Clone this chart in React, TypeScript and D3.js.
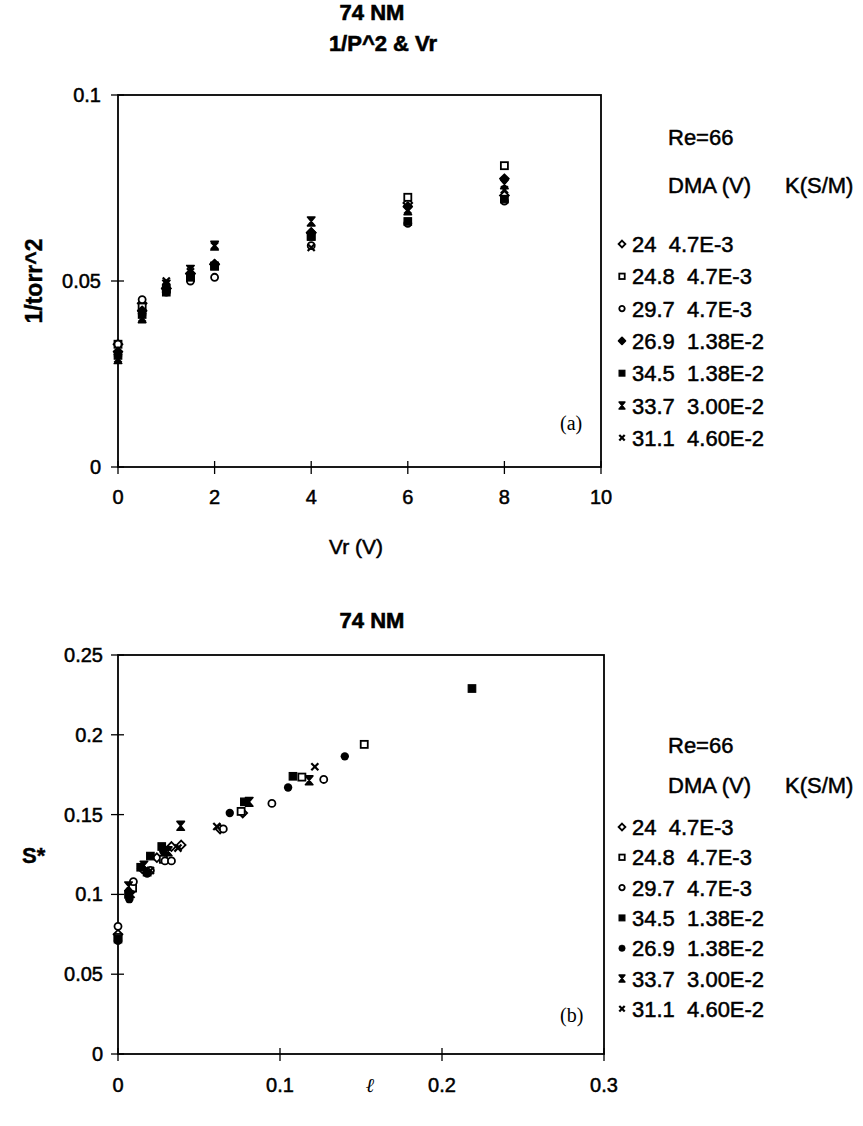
import React from "react";
import * as d3 from "d3";

// ---------- data: panel (a) ----------
const vrValues = [0, 0.5, 1, 1.5, 2, 4, 6, 8];
const aS1 = [0.033, 0.044, 0.048, 0.052, 0.0545, 0.063, 0.071, 0.073]; // 24  4.7E-3  open diamond
const aS2 = [0.033, 0.043, 0.048, 0.051, 0.054, 0.062, 0.0725, 0.081]; // 24.8 open square
const aS3 = [0.033, 0.045, 0.047, 0.05, 0.051, 0.0595, 0.0655, 0.0715]; // 29.7 open circle
const aS4 = [0.031, 0.042, 0.048, 0.052, 0.0545, 0.063, 0.07, 0.0775]; // 26.9 filled diamond
const aS5 = [0.03, 0.041, 0.047, 0.051, 0.054, 0.062, 0.066, 0.072]; // 34.5 filled square
const aS6 = [0.029, 0.04, 0.049, 0.053, 0.0595, 0.066, 0.069, 0.076]; // 33.7 hourglass
const aS7 = [0.029, 0.04, 0.05, 0.0525, 0.0595, 0.059, 0.069, 0.0745]; // 31.1 x
const aLabels = ["24  4.7E-3", "24.8  4.7E-3", "29.7  4.7E-3", "26.9  1.38E-2", "34.5  1.38E-2", "33.7  3.00E-2", "31.1  4.60E-2"];
const aSymbols = ["diamondOpen", "squareOpen", "circleOpen", "diamondFilled", "squareFilled", "hourglass", "x"];
const aXTicks = [0, 2, 4, 6, 8, 10];
const aYTicks = [0, 0.05, 0.1];
const aYTickLabels = ["0", "0.05", "0.1"];

// ---------- data: panel (b) ----------
const bS1x = [0, 0.008, 0.015, 0.024, 0.033, 0.039, 0.063, 0.077];
const bS1y = [0.075, 0.102, 0.116, 0.123, 0.13, 0.131, 0.141, 0.151];
const bS2x = [0, 0.009, 0.018, 0.028, 0.076, 0.1135, 0.152];
const bS2y = [0.073, 0.104, 0.114, 0.122, 0.152, 0.1735, 0.194];
const bS3x = [0, 0.0095, 0.02, 0.029, 0.033, 0.065, 0.095, 0.127];
const bS3y = [0.08, 0.108, 0.115, 0.121, 0.121, 0.141, 0.157, 0.172];
const bS4x = [0, 0.0065, 0.014, 0.02, 0.027, 0.078, 0.108, 0.2185];
const bS4y = [0.072, 0.1, 0.117, 0.124, 0.13, 0.158, 0.174, 0.229];
const bS5x = [0, 0.007, 0.018, 0.028, 0.069, 0.105, 0.14];
const bS5y = [0.071, 0.097, 0.113, 0.127, 0.151, 0.167, 0.1865];
const bS6x = [0.0065, 0.016, 0.031, 0.0387, 0.081, 0.118];
const bS6y = [0.105, 0.118, 0.127, 0.143, 0.158, 0.1715];
const bS7x = [0.008, 0.02, 0.037, 0.061, 0.1215];
const bS7y = [0.1, 0.115, 0.129, 0.1425, 0.18];
const bLabels = ["24  4.7E-3", "24.8  4.7E-3", "29.7  4.7E-3", "34.5  1.38E-2", "26.9  1.38E-2", "33.7  3.00E-2", "31.1  4.60E-2"];
const bSymbols = ["diamondOpen", "squareOpen", "circleOpen", "squareFilled", "circleFilled", "hourglass", "x"];
const bXTicks = [0, 0.1, 0.2, 0.3];
const bXTickLabels = ["0", "0.1", "0.2", "0.3"];
const bYTicks = [0, 0.05, 0.1, 0.15, 0.2, 0.25];
const bYTickLabels = ["0", "0.05", "0.1", "0.15", "0.2", "0.25"];

const FONT = "'Liberation Sans', Arial, Helvetica, sans-serif";
const SERIF = "'Liberation Serif', 'Times New Roman', serif";

function Marker({ type, x, y, s }: { type: string; x: number; y: number; s: number }) {
  const t = `translate(${x},${y})`;
  const sw = 1.8;
  switch (type) {
    case "diamondOpen":
      return <path transform={t} d={`M0,${-s}L${s},0L0,${s}L${-s},0Z`} fill="#fff" stroke="#000" strokeWidth={sw} />;
    case "diamondFilled":
      return <path transform={t} d={`M0,${-s}L${s},0L0,${s}L${-s},0Z`} fill="#000" stroke="#000" strokeWidth={sw} strokeLinejoin="round" />;
    case "squareOpen":
      return <rect transform={t} x={-s * 0.8} y={-s * 0.8} width={s * 1.6} height={s * 1.6} fill="#fff" stroke="#000" strokeWidth={sw} />;
    case "squareFilled":
      return <rect transform={t} x={-s * 0.85} y={-s * 0.85} width={s * 1.7} height={s * 1.7} fill="#000" stroke="#000" strokeWidth={1.2} />;
    case "circleOpen":
      return <circle transform={t} r={s * 0.8} fill="#fff" stroke="#000" strokeWidth={sw} />;
    case "circleFilled":
      return <circle transform={t} r={s * 0.95} fill="#000" />;
    case "hourglass":
      return <path transform={t} d={`M${-s * 0.85},${-s}H${s * 0.85}L${-s * 0.85},${s}H${s * 0.85}Z`} fill="#000" stroke="#000" strokeWidth={1.6} strokeLinejoin="round" />;
    case "x":
      return (
        <g transform={t} stroke="#000" strokeWidth={2.2}>
          <line x1={-s * 0.8} y1={-s * 0.8} x2={s * 0.8} y2={s * 0.8} />
          <line x1={-s * 0.8} y1={s * 0.8} x2={s * 0.8} y2={-s * 0.8} />
        </g>
      );
    default:
      return null;
  }
}

function Legend({ x, yRe, yHead, yFirst, step, labels, symbols }: any) {
  return (
    <g fontFamily={FONT} fontSize={22} fill="#000" stroke="#000" strokeWidth={0.5}>
      <text x={x + 54} y={yRe}>Re=66</text>
      <text x={x + 54} y={yHead}>DMA (V)</text>
      <text x={x + 171} y={yHead}>K(S/M)</text>
      {labels.map((l: string, i: number) => (
        <g key={i}>
          <Marker type={symbols[i]} x={x + 8} y={yFirst + i * step - 8} s={3.4} />
          <text x={x + 18} y={yFirst + i * step} style={{ whiteSpace: "pre" }}>{l}</text>
        </g>
      ))}
    </g>
  );
}

export default function App() {
  // panel (a) scales
  const ax = d3.scaleLinear().domain([0, 10]).range([118, 601]);
  const ay = d3.scaleLinear().domain([0, 0.1]).range([467, 95]);
  // panel (b) scales
  const bx = d3.scaleLinear().domain([0, 0.3]).range([118, 604]);
  const by = d3.scaleLinear().domain([0, 0.25]).range([1054, 655]);

  const aSeries = [aS1, aS2, aS3, aS4, aS5, aS6, aS7];
  const bSeries = [
    [bS1x, bS1y], [bS2x, bS2y], [bS3x, bS3y], [bS4x, bS4y], [bS5x, bS5y], [bS6x, bS6y], [bS7x, bS7y],
  ];

  const tickText = { fontFamily: FONT, fontSize: 20, stroke: "#000", strokeWidth: 0.5 } as any;

  return (
    <svg width={863} height={1126} style={{ position: "absolute", left: 0, top: 0, background: "#fff" }}>
      <rect width={863} height={1126} fill="#fff" />
      {/* ---------- Panel (a) ---------- */}
      <g fontFamily={FONT} fill="#000" stroke="#000" strokeWidth={0.6}>
        <text x={372} y={20} fontSize={22} fontWeight="bold" textAnchor="middle">74 NM</text>
        <text x={383} y={51} fontSize={22} fontWeight="bold" textAnchor="middle">1/P^2 &amp; Vr</text>
      </g>
      <rect x={ax(0)} y={ay(0.1)} width={ax(10) - ax(0)} height={ay(0) - ay(0.1)} fill="none" stroke="#000" strokeWidth={1.8} />
      {aYTicks.map((v, i) => (
        <g key={i}>
          <line x1={ax(0) - 7} x2={ax(0) + 6} y1={ay(v)} y2={ay(v)} stroke="#000" strokeWidth={1.3} />
          <text x={ax(0) - 17} y={ay(v) + 7} textAnchor="end" {...tickText}>{aYTickLabels[i]}</text>
        </g>
      ))}
      {aXTicks.map((v, i) => (
        <g key={i}>
          <line x1={ax(v)} x2={ax(v)} y1={ay(0) - 6} y2={ay(0) + 7} stroke="#000" strokeWidth={1.3} />
          <text x={ax(v)} y={ay(0) + 37} textAnchor="middle" {...tickText}>{String(v)}</text>
        </g>
      ))}
      <text x={356} y={554} textAnchor="middle" {...tickText} fontSize={21}>Vr (V)</text>
      <text transform={`translate(42,${(ay(0) + ay(0.1)) / 2}) rotate(-90)`} textAnchor="middle" fontFamily={FONT} fontSize={23} fontWeight="bold" stroke="#000" strokeWidth={0.4}>1/torr^2</text>
      {aSeries.map((ser, si) =>
        ser.map((v, i) => <Marker key={`a${si}-${i}`} type={aSymbols[si]} x={ax(vrValues[i])} y={ay(v)} s={4.4} />)
      )}
      <text x={560} y={430} fontFamily={SERIF} fontSize={20}>(a)</text>
      <Legend x={614} yRe={145} yHead={193} yFirst={252} step={32.3} labels={aLabels} symbols={aSymbols} />

      {/* ---------- Panel (b) ---------- */}
      <text x={372} y={628} fontSize={22} fontWeight="bold" textAnchor="middle" fontFamily={FONT} stroke="#000" strokeWidth={0.6}>74 NM</text>
      <rect x={bx(0)} y={by(0.25)} width={bx(0.3) - bx(0)} height={by(0) - by(0.25)} fill="none" stroke="#000" strokeWidth={1.8} />
      {bYTicks.map((v, i) => (
        <g key={i}>
          <line x1={bx(0) - 7} x2={bx(0) + 6} y1={by(v)} y2={by(v)} stroke="#000" strokeWidth={1.3} />
          <text x={bx(0) - 15} y={by(v) + 7} textAnchor="end" {...tickText}>{bYTickLabels[i]}</text>
        </g>
      ))}
      {bXTicks.map((v, i) => (
        <g key={i}>
          <line x1={bx(v)} x2={bx(v)} y1={by(0) - 6} y2={by(0) + 7} stroke="#000" strokeWidth={1.3} />
          <text x={bx(v)} y={by(0) + 38} textAnchor="middle" {...tickText}>{bXTickLabels[i]}</text>
        </g>
      ))}
      <text x={370} y={1092} textAnchor="middle" fontFamily="'DejaVu Serif', serif" fontStyle="italic" fontSize={20}>ℓ</text>
      <text x={22} y={863} fontFamily={FONT} fontSize={22} fontWeight="bold" stroke="#000" strokeWidth={0.4}>S*</text>
      {bSeries.map((ser, si) =>
        ser[0].map((v, i) => <Marker key={`b${si}-${i}`} type={bSymbols[si]} x={bx(v)} y={by(ser[1][i])} s={4.4} />)
      )}
      <text x={560} y={1022} fontFamily={SERIF} fontSize={20}>(b)</text>
      <Legend x={614} yRe={753} yHead={793} yFirst={835} step={30.3} labels={bLabels} symbols={bSymbols} />
    </svg>
  );
}
